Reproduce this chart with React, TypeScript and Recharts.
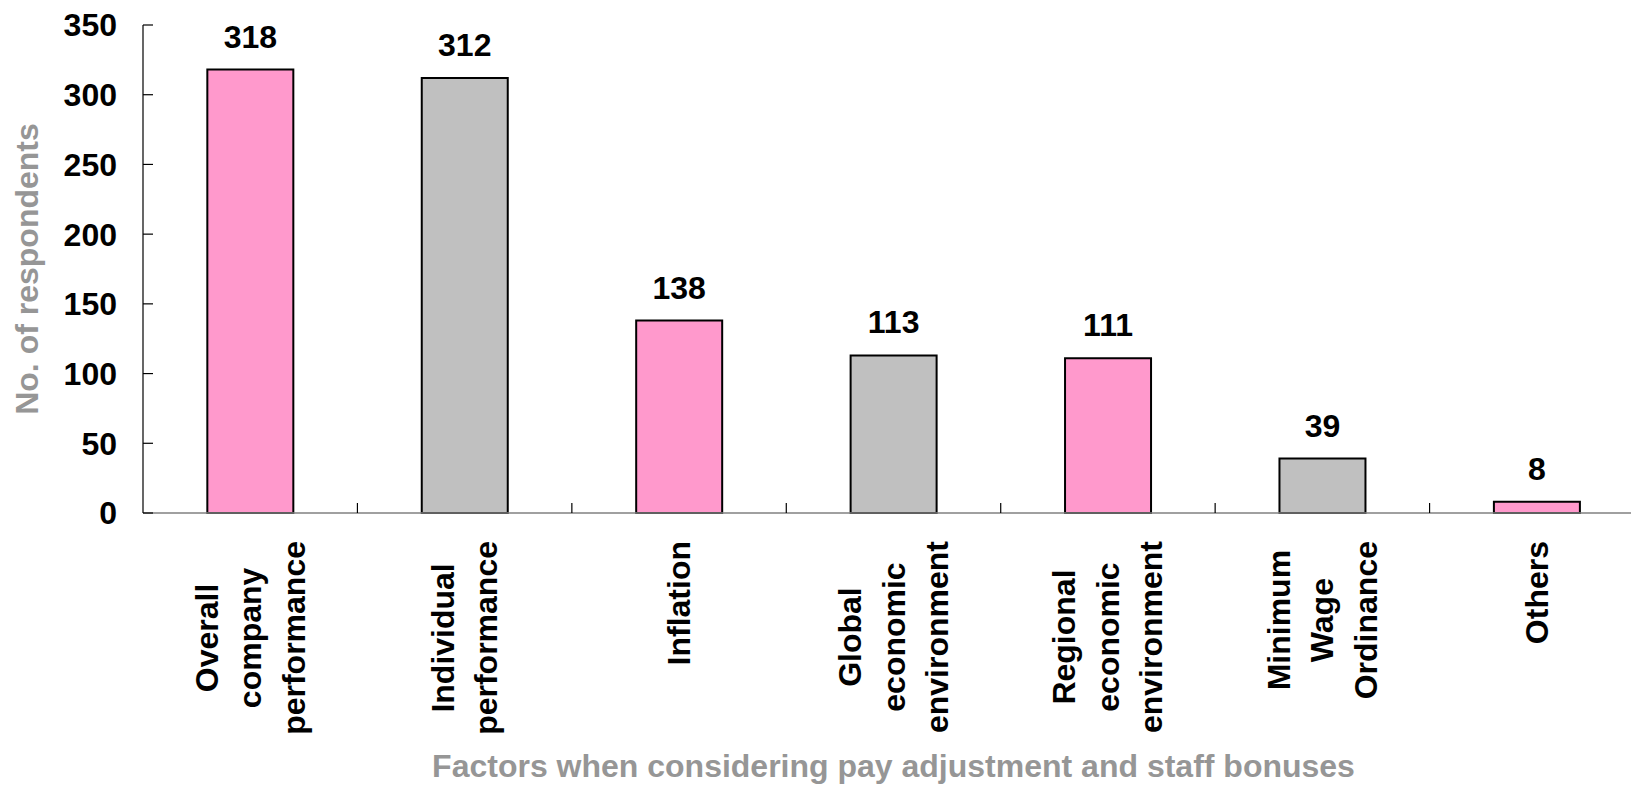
import { BarChart, Bar, XAxis, YAxis, Cell, LabelList } from 'recharts'

const categories = [
  'Overall\ncompany\nperformance',
  'Individual\nperformance',
  'Inflation',
  'Global\neconomic\nenvironment',
  'Regional\neconomic\nenvironment',
  'Minimum\nWage\nOrdinance',
  'Others',
]
const respondents = [318, 312, 138, 113, 111, 39, 8]
const yTicks = [0, 50, 100, 150, 200, 250, 300, 350]
const xTitle = 'Factors when considering pay adjustment and staff bonuses'
const yTitle = 'No. of respondents'

const FONT = '"Liberation Sans", Arial, sans-serif'
const FONT_SIZE = 32
const COLORS = ['#ff99cc', '#c0c0c0']
const TITLE_GREY = '#969696'

const data = categories.map((name, i) => ({ name, value: respondents[i] }))

let ctx: CanvasRenderingContext2D | null = null
function textWidth(s: string) {
  if (!ctx) ctx = document.createElement('canvas').getContext('2d')
  if (!ctx) return s.length * 18
  ctx.font = `bold ${FONT_SIZE}px ${FONT}`
  return ctx.measureText(s).width
}

// category label: wrapped lines rotated, longest line ends at a fixed gap below the axis
function CategoryTick(props: any) {
  const { x, y, payload, width, visibleTicksCount } = props
  const half = payload.offset || width / visibleTicksCount / 2
  const lines = String(payload.value).split('\n')
  const maxW = Math.max(...lines.map(textWidth))
  const lineGap = 43.5
  return (
    <g>
      <line x1={x + half} x2={x + half} y1={y} y2={y - 10} stroke="#000" strokeWidth={1.2} />
      <g transform={`translate(${x},${y + 28}) rotate(-90)`}>
        {lines.map((l, i) => (
          <text
            key={i}
            x={-maxW / 2}
            y={(i - (lines.length - 1) / 2) * lineGap}
            textAnchor="middle"
            dominantBaseline="central"
            fill="#000"
            fontSize={FONT_SIZE}
            fontWeight="bold"
            fontFamily={FONT}
          >
            {l}
          </text>
        ))}
      </g>
    </g>
  )
}

function XTitle(props: any) {
  const { viewBox } = props
  return (
    <text
      x={viewBox.x + viewBox.width / 2}
      y={viewBox.y + 264}
      textAnchor="middle"
      fill={TITLE_GREY}
      fontSize={FONT_SIZE}
      fontWeight="bold"
      fontFamily={FONT}
    >
      {xTitle}
    </text>
  )
}

function YTitle(props: any) {
  const { viewBox } = props
  const cy = viewBox.y + viewBox.height / 2
  return (
    <text
      transform={`translate(37.5,${cy}) rotate(-90)`}
      textAnchor="middle"
      fill={TITLE_GREY}
      fontSize={FONT_SIZE}
      fontWeight="bold"
      fontFamily={FONT}
    >
      {yTitle}
    </text>
  )
}

export default function App() {
  return (
    <div
      style={{
        position: 'absolute',
        left: 0,
        top: 0,
        width: 1631,
        height: 785,
        overflow: 'hidden',
        background: '#fff',
        fontFamily: FONT,
      }}
    >
      <BarChart
        width={1660}
        height={785}
        data={data}
        margin={{ top: 25, right: 16, bottom: 0, left: 0 }}
        barCategoryGap="30%"
      >
        <XAxis
          dataKey="name"
          height={272}
          interval={0}
          tickLine={false}
          tickSize={0}
          tickMargin={0}
          axisLine={{ stroke: '#808080', strokeWidth: 1.5 }}
          tick={<CategoryTick />}
          label={<XTitle />}
        />
        <YAxis
          width={143}
          domain={[0, 350]}
          ticks={yTicks}
          interval={0}
          tickSize={-10}
          tickMargin={36}
          axisLine={{ stroke: '#000', strokeWidth: 1.2 }}
          tickLine={{ stroke: '#000', strokeWidth: 1.2 }}
          tick={{ fill: '#000', fontSize: FONT_SIZE, fontWeight: 'bold', fontFamily: FONT }}
          label={<YTitle />}
        />
        <Bar dataKey="value" stroke="#000" strokeWidth={2} isAnimationActive={false}>
          {data.map((d, i) => (
            <Cell key={d.name} fill={COLORS[i % 2]} />
          ))}
          <LabelList
            dataKey="value"
            position="top"
            offset={22}
            fill="#000"
            fontSize={FONT_SIZE}
            fontWeight="bold"
            fontFamily={FONT}
          />
        </Bar>
      </BarChart>
    </div>
  )
}
